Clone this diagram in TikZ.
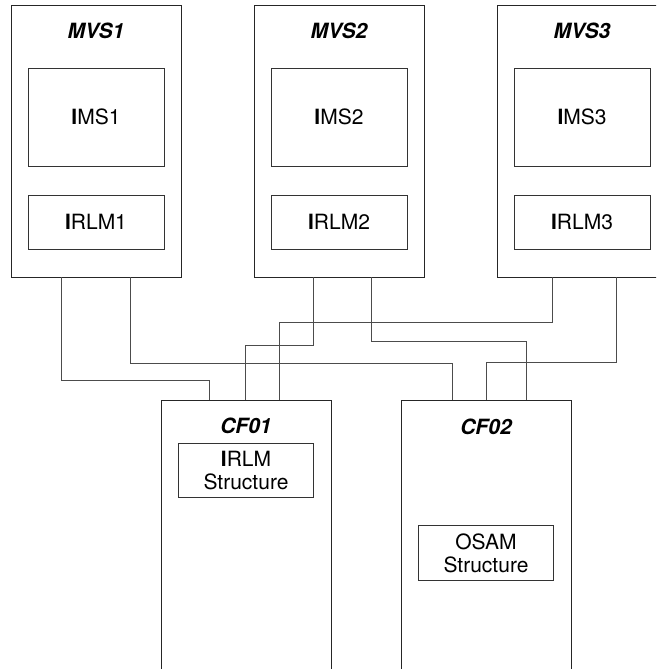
\documentclass[tikz,border=0pt]{standalone}
\usepackage{fontspec}
\setmainfont{TeX Gyre Heros}
\begin{document}
\begin{tikzpicture}[x=1pt,y=-1pt,
  every node/.style={inner sep=0pt,outer sep=0pt,font=\fontsize{21}{22.7}\selectfont},
  sysbox/.style={draw=black!85,line width=1pt,minimum width=170pt,minimum height=271pt},
  cfbox/.style={draw=black!85,line width=1pt,minimum width=170pt,minimum height=320pt},
  inbox/.style={draw=black!80,line width=0.9pt,minimum width=136pt,align=center},
  ttl/.style={font=\fontsize{21}{22.7}\selectfont\bfseries\itshape},
  conn/.style={draw=black!70,line width=0.9pt}]
\useasboundingbox (0,0) rectangle (656,669);
\clip (0,0) rectangle (656,669);
% MVS systems
\node[sysbox] (mvs1) at (96,141.5) {};
\node[sysbox] (mvs2) at (339,141.5) {};
\node[sysbox] (mvs3) at (582,141.5) {};
\node[ttl] (mvs1t) at (96,31) {MVS1};
\node[ttl] (mvs2t) at (339,31) {MVS2};
\node[ttl] (mvs3t) at (582,31) {MVS3};
\node[inbox,minimum height=98pt] (ims1) at (96,117) {\textbf{I}MS1};
\node[inbox,minimum height=98pt] (ims2) at (339,117) {\textbf{I}MS2};
\node[inbox,minimum height=98pt] (ims3) at (582,117) {\textbf{I}MS3};
\node[inbox,minimum height=54pt] (irlm1) at (96,222) {\textbf{I}RLM1};
\node[inbox,minimum height=54pt] (irlm2) at (339,222) {\textbf{I}RLM2};
\node[inbox,minimum height=54pt] (irlm3) at (582,222) {\textbf{I}RLM3};
% Coupling facilities
\node[cfbox] (cf1) at (246,560) {};
\node[cfbox] (cf2) at (486,560) {};
\node[ttl] (cf1t) at (246,426) {CF01};
\node[ttl] (cf2t) at (486,427) {CF02};
\node[inbox,minimum width=135pt,minimum height=54pt] (irlms) at (246,470.5) {\textbf{I}RLM\\Structure};
\node[inbox,minimum width=135pt,minimum height=55pt] (osams) at (486,553) {OSAM\\Structure};
% connectors
\draw[conn] ([xshift=50pt]mvs1.south west) |- ([xshift=48pt,yshift=20pt]cf1.north west) -- ([xshift=48pt]cf1.north west);
\draw[conn] ([xshift=119.7pt]mvs1.south west) |- ([xshift=51pt,yshift=37pt]cf2.north west) -- ([xshift=51pt]cf2.north west);
\draw[conn] ([xshift=59pt]mvs2.south west) |- ([xshift=84pt,yshift=55pt]cf1.north west) -- ([xshift=84pt]cf1.north west);
\draw[conn] ([xshift=117pt]mvs2.south west) |- ([xshift=125pt,yshift=59pt]cf2.north west) -- ([xshift=125pt]cf2.north west);
\draw[conn] ([xshift=55pt]mvs3.south west) |- ([xshift=118pt,yshift=78pt]cf1.north west) -- ([xshift=118pt]cf1.north west);
\draw[conn] ([xshift=119pt]mvs3.south west) |- ([xshift=85.6pt,yshift=38pt]cf2.north west) -- ([xshift=85.6pt]cf2.north west);
\end{tikzpicture}
\end{document}
